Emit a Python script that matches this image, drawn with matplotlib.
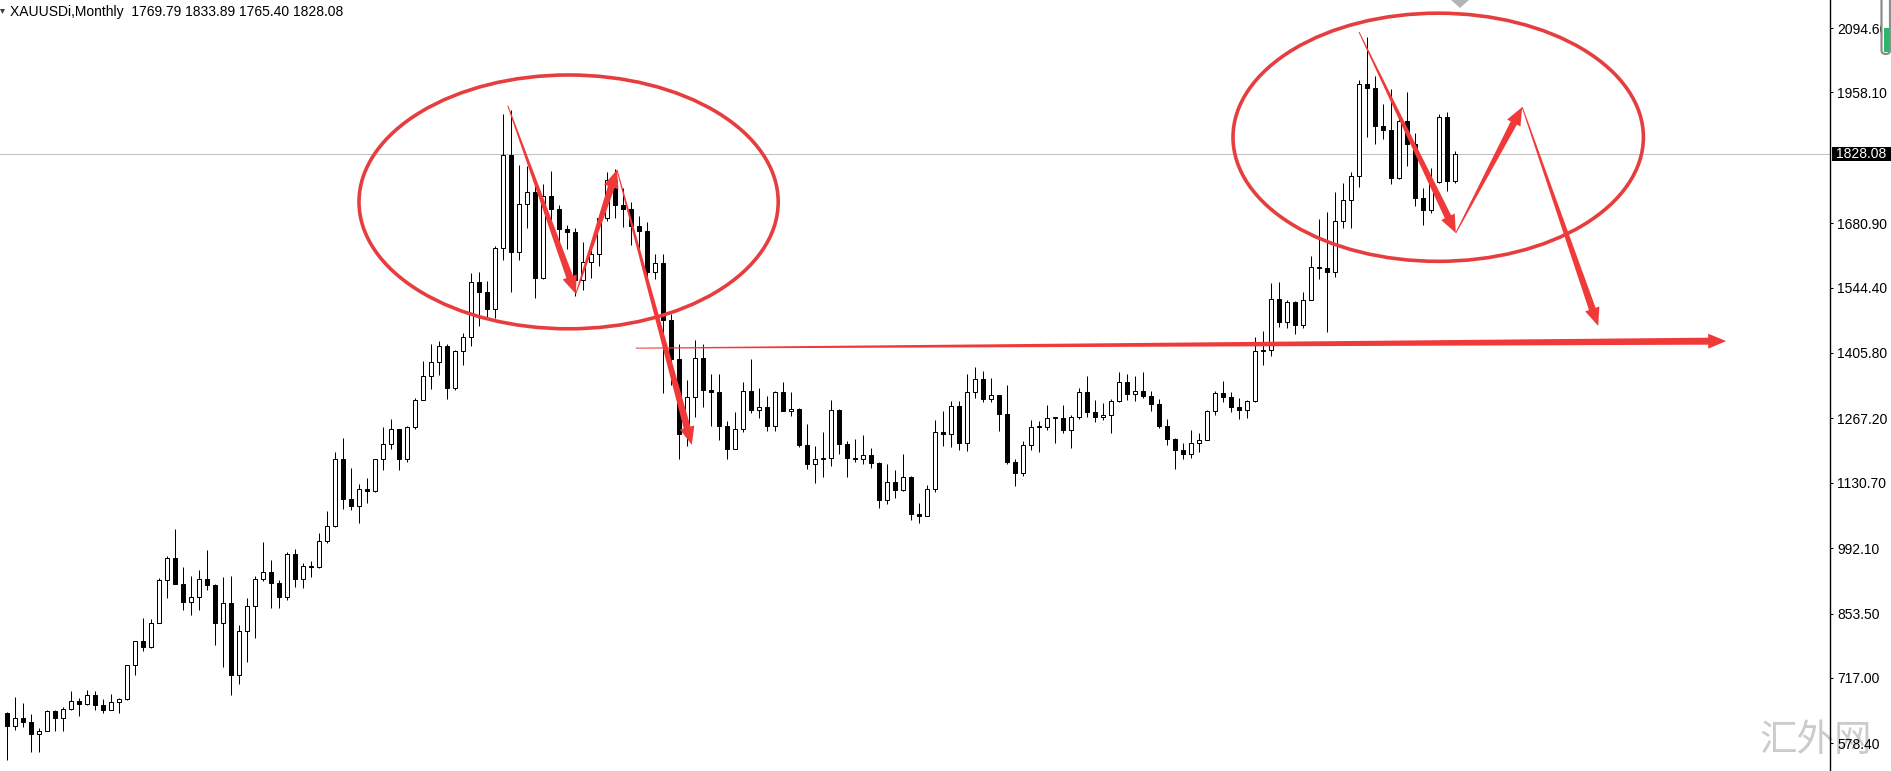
import numpy as np
import matplotlib
matplotlib.use('Agg')
import matplotlib.pyplot as plt
from matplotlib.patches import Ellipse, Polygon, Rectangle, FancyBboxPatch
from matplotlib.transforms import IdentityTransform, blended_transform_factory

plt.rcParams['font.family'] = ['Liberation Sans', 'DejaVu Sans']

# XAUUSD monthly candles, Jun 2006 .. Jul 2021
opens = [643, 614, 633, 624, 599, 604, 646,  # 2006
         632, 652, 669, 662, 681, 659, 650, 666, 672, 744, 795, 783,  # 2007
         834, 924, 972, 917, 877, 889, 927, 913, 833, 876, 724, 817,  # 2008
         870, 927, 942, 918, 889, 979, 927, 955, 953, 1008, 1040, 1182,  # 2009
         1096, 1082, 1118, 1113, 1180, 1213, 1244, 1181, 1248, 1307, 1357, 1386,  # 2010
         1421, 1332, 1409, 1439, 1556, 1536, 1500, 1628, 1826, 1620, 1722, 1746,  # 2011
         1564, 1738, 1710, 1668, 1663, 1560, 1599, 1615, 1691, 1772, 1719, 1711,  # 2012
         1675, 1664, 1578, 1597, 1476, 1393, 1234, 1312, 1395, 1327, 1323, 1250,  # 2013
         1202, 1244, 1326, 1284, 1292, 1250, 1322, 1282, 1287, 1210, 1171, 1182,  # 2014
         1184, 1284, 1212, 1184, 1182, 1190, 1172, 1095, 1133, 1115, 1142, 1064,  # 2015
         1061, 1118, 1238, 1233, 1293, 1215, 1322, 1351, 1309, 1316, 1277, 1174,  # 2016
         1151, 1211, 1249, 1249, 1268, 1268, 1242, 1269, 1322, 1280, 1271, 1275,  # 2017
         1303, 1345, 1318, 1325, 1315, 1298, 1252, 1224, 1201, 1192, 1214, 1222,  # 2018
         1282, 1321, 1313, 1292, 1284, 1305, 1409, 1413, 1520, 1472, 1513, 1464,  # 2019
         1517, 1589, 1585, 1577, 1686, 1730, 1781, 1975, 1967, 1886, 1879, 1777,  # 2020
         1898, 1848, 1734, 1708, 1769, 1906, 1769.79]  # 2021
highs = [645, 677, 664, 640, 610, 650, 649,
         656, 690, 675, 692, 690, 673, 683, 675, 745, 795, 845, 842,
         929, 975, 1032, 952, 932, 945, 988, 917, 930, 933, 830, 887,
         934, 1006, 966, 924, 983, 990, 960, 964, 1024, 1070, 1195, 1226,
         1162, 1128, 1140, 1180, 1249, 1265, 1245, 1251, 1310, 1388, 1424, 1431,
         1424, 1411, 1448, 1576, 1577, 1559, 1632, 1912, 1921, 1804, 1803, 1764,
         1764, 1791, 1720, 1677, 1670, 1640, 1630, 1694, 1790, 1796, 1755, 1725,
         1696, 1684, 1616, 1616, 1488, 1424, 1348, 1434, 1424, 1361, 1361, 1262,
         1280, 1345, 1392, 1332, 1315, 1326, 1345, 1324, 1290, 1255, 1209, 1238,
         1307, 1287, 1220, 1224, 1232, 1205, 1174, 1170, 1157, 1191, 1146, 1088,
         1125, 1263, 1283, 1304, 1304, 1362, 1375, 1367, 1352, 1317, 1337, 1180,
         1220, 1264, 1261, 1296, 1271, 1296, 1274, 1331, 1357, 1306, 1299, 1309,
         1366, 1362, 1356, 1365, 1326, 1309, 1266, 1226, 1214, 1243, 1237, 1284,
         1326, 1346, 1324, 1310, 1306, 1439, 1453, 1555, 1557, 1518, 1516, 1535,
         1611, 1689, 1704, 1747, 1765, 1789, 1984, 2075, 1992, 1933, 1966, 1907,
         1959, 1872, 1755, 1798, 1913, 1917, 1833.89]
lows = [543, 606, 612, 560, 560, 604, 605,
        605, 650, 636, 660, 650, 642, 648, 642, 670, 723, 775, 781,
        834, 887, 915, 861, 850, 860, 904, 786, 740, 681, 705, 750,
        802, 922, 866, 866, 883, 910, 908, 930, 950, 1003, 1036, 1075,
        1072, 1045, 1088, 1112, 1158, 1202, 1157, 1175, 1244, 1306, 1330, 1360,
        1308, 1328, 1381, 1420, 1462, 1478, 1480, 1603, 1535, 1603, 1670, 1523,
        1563, 1688, 1627, 1627, 1527, 1540, 1564, 1591, 1686, 1692, 1672, 1635,
        1626, 1554, 1563, 1321, 1338, 1180, 1208, 1270, 1292, 1251, 1221, 1181,
        1202, 1238, 1278, 1268, 1240, 1241, 1282, 1273, 1206, 1160, 1131, 1142,
        1167, 1192, 1142, 1175, 1170, 1162, 1077, 1085, 1098, 1113, 1052, 1046,
        1061, 1111, 1208, 1207, 1200, 1199, 1310, 1301, 1302, 1241, 1171, 1123,
        1146, 1200, 1195, 1243, 1214, 1236, 1205, 1265, 1271, 1260, 1264, 1236,
        1302, 1307, 1303, 1310, 1282, 1246, 1211, 1160, 1180, 1183, 1196, 1221,
        1275, 1302, 1281, 1266, 1267, 1301, 1381, 1400, 1460, 1458, 1445, 1459,
        1517, 1563, 1451, 1567, 1670, 1670, 1757, 1863, 1848, 1860, 1764, 1775,
        1802, 1717, 1677, 1703, 1766, 1750, 1765.40]
closes = [614, 633, 624, 599, 604, 646, 632,
          652, 669, 662, 681, 659, 650, 666, 672, 744, 795, 783, 834,
          924, 972, 917, 877, 889, 927, 913, 833, 876, 724, 817, 870,
          927, 942, 918, 889, 979, 927, 955, 953, 1008, 1040, 1182, 1096,
          1082, 1118, 1113, 1180, 1213, 1244, 1181, 1248, 1307, 1357, 1386, 1421,
          1332, 1409, 1439, 1556, 1536, 1500, 1628, 1826, 1620, 1722, 1746, 1564,
          1738, 1710, 1668, 1663, 1560, 1599, 1615, 1691, 1772, 1719, 1711, 1675,
          1664, 1578, 1597, 1476, 1393, 1234, 1312, 1395, 1327, 1323, 1250, 1202,
          1244, 1326, 1284, 1292, 1250, 1322, 1282, 1287, 1210, 1171, 1182, 1184,
          1284, 1212, 1184, 1182, 1190, 1172, 1095, 1133, 1115, 1142, 1064, 1061,
          1118, 1238, 1233, 1293, 1215, 1322, 1351, 1309, 1316, 1277, 1174, 1151,
          1211, 1249, 1249, 1268, 1268, 1242, 1269, 1322, 1280, 1271, 1275, 1303,
          1345, 1318, 1325, 1315, 1298, 1252, 1224, 1201, 1192, 1214, 1222, 1282,
          1321, 1313, 1292, 1284, 1305, 1409, 1413, 1520, 1472, 1513, 1464, 1517,
          1589, 1585, 1577, 1686, 1730, 1781, 1975, 1967, 1886, 1879, 1777, 1898,
          1848, 1734, 1708, 1769, 1906, 1770, 1828.08]

# right price scale
tick_vals = [2094.60, 1958.10, 1680.90, 1544.40, 1405.80, 1267.20,
             1130.70, 992.10, 853.50, 717.00, 578.40]
last_price = 1828.08
title = 'XAUUSDi,Monthly  1769.79 1833.89 1765.40 1828.08'

# hand drawn marks: ellipses (bar, price, width in bars, height in price)
ellipses = [(70.2, 1726, 52.4, 538), (178.9, 1863, 51.3, 526)]
# arrows (bar0, price0, bar1, price1)
arrows = [(62.6, 1930, 71.1, 1531),
          (71.1, 1531, 76.25, 1794),
          (76.25, 1794, 85.6, 1211),
          (78.6, 1416, 214.9, 1431),
          (169.0, 2086, 181.1, 1660),
          (181.1, 1660, 189.4, 1927),
          (189.4, 1927, 198.9, 1463)]

W, H = 1891, 771
fig = plt.figure(figsize=(W / 100, H / 100), dpi=100, facecolor='white')
ax = fig.add_axes([0, 0, 1830 / W, 1])
ax.patch.set_visible(False)
# 8 px per bar, first bar centred at x=7 px; 2.1197 price per px
ax.set_xlim(-7 / 8, (1830 - 7) / 8)
ax.set_ylim(2094.6 - 743 * 2.1197, 2094.6 + 28 * 2.1197)

x = np.arange(len(opens))
o = np.array(opens, float)
c = np.array(closes, float)
px = 0.72  # one pixel in points

# candles: wicks then bodies
ax.vlines(x, lows, highs, color='black', lw=px, zorder=2)
bottoms = np.minimum(o, c)
heights = np.maximum(np.abs(c - o), 1.5)
fills = ['white' if cc >= oo else 'black' for oo, cc in zip(o, c)]
ax.bar(x, heights, bottom=bottoms, width=0.56, color=fills,
       edgecolor='black', linewidth=px, zorder=3)

# current price line
ax.axhline(last_price, color='#c0c0c0', lw=px, zorder=1)

# axis styling
for s in ['left', 'top', 'bottom']:
    ax.spines[s].set_visible(False)
ax.spines['right'].set_linewidth(1.0)
ax.set_xticks([])
ax.yaxis.tick_right()
ax.set_yticks(tick_vals)
ax.set_yticklabels(['%.2f' % v for v in tick_vals])
ax.tick_params(axis='y', length=2.2, width=px, pad=2.9, labelsize=10,
               colors='black')

# last price box on the scale
blend = blended_transform_factory(ax.transAxes, ax.transData)
ax.add_patch(Rectangle((1832 / 1830, last_price - 7 * 2.1197), 60 / 1830, 14 * 2.1197,
                       transform=blend, facecolor='black', edgecolor='none',
                       clip_on=False, zorder=5))
ax.text(1836 / 1830, last_price, '%.2f' % last_price, transform=blend, color='white',
        fontsize=10, ha='left', va='center', clip_on=False, zorder=6)

# red ellipses
for cx, cy, ew, eh in ellipses:
    ax.add_patch(Ellipse((cx, cy), ew, eh, fill=False, edgecolor='#e63e3e',
                         lw=2.6, zorder=7))


def tapered_arrow(b0, p0, b1, p1, hl=18, hw=7.5, w0=0.5, w1=3.5):
    a = ax.transData.transform((b0, p0))
    b = ax.transData.transform((b1, p1))
    d = b - a
    u = d / np.hypot(*d)
    n = np.array([-u[1], u[0]])
    base = b - u * hl
    pts = [a + n * w0, base + n * w1, base + n * hw, b,
           base - n * hw, base - n * w1, a - n * w0]
    fig.add_artist(Polygon(pts, closed=True, transform=IdentityTransform(),
                           facecolor='#f03a3a', edgecolor='none', zorder=8))


for arr in arrows:
    tapered_arrow(*arr)

# header text and small markers
fig.text(10 / W, 1 - 12 / H, title, ha='left', va='center', fontsize=10, color='black')
fig.add_artist(Polygon([(0, H - 9), (5, H - 9), (2.5, H - 14)], closed=True,
                       transform=IdentityTransform(), facecolor='#404040', edgecolor='none'))
fig.add_artist(Polygon([(1451, H), (1469, H), (1460, H - 8)], closed=True,
                       transform=IdentityTransform(), facecolor='#b4b4b4', edgecolor='none'))

# one-click widget at top right
fig.add_artist(FancyBboxPatch((1881.5, H - 54), 8.5, 70, boxstyle='round,pad=0,rounding_size=4',
                              transform=IdentityTransform(), facecolor='white',
                              edgecolor='#8c8c8c', lw=1.6))
fig.add_artist(Rectangle((1884, H - 52), 4.5, 24, transform=IdentityTransform(),
                         facecolor='#2db36a', edgecolor='none'))

# watermark
fig.text(1816 / W, 1 - 740 / H, '汇外网', fontsize=27, color='#cbcbcb',
         family=['Noto Sans CJK SC', 'DejaVu Sans'], ha='center', va='center', zorder=-1)

fig.savefig('out.png', dpi=100, facecolor='white')
